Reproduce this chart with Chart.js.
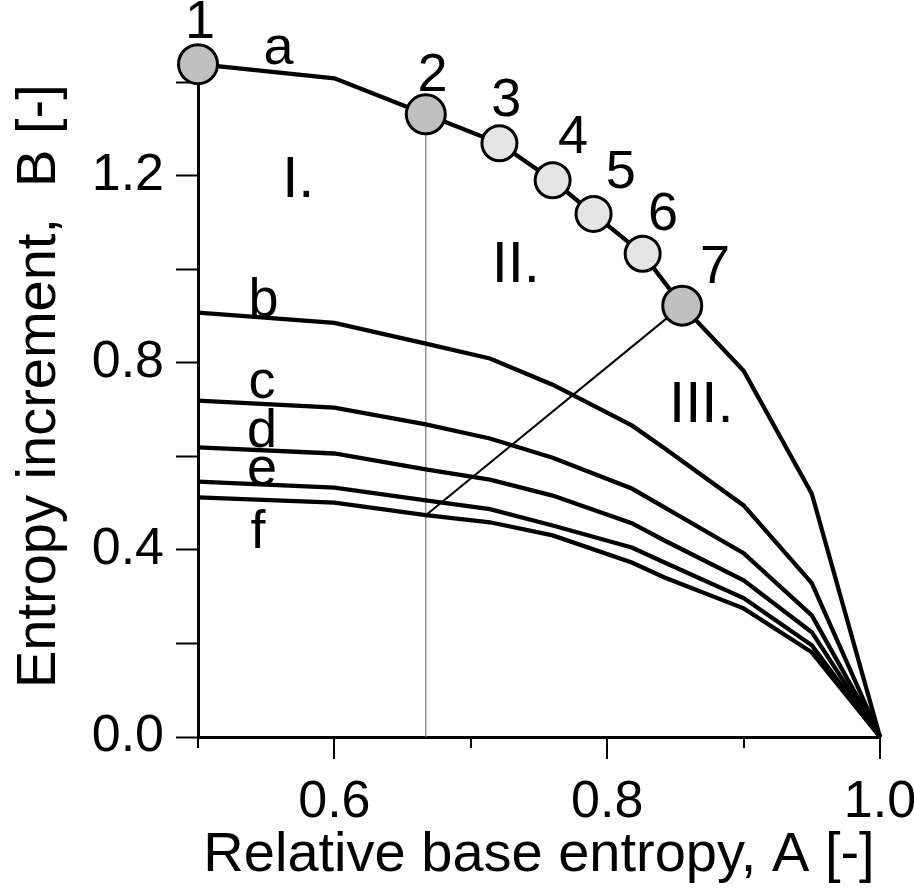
<!DOCTYPE html>
<html>
<head>
<meta charset="utf-8">
<script src="https://cdn.jsdelivr.net/npm/chart.js@4.4.1/dist/chart.umd.min.js"></script>
<style>
  html, body { margin: 0; padding: 0; background: #fff; }
  #wrap { width: 914px; height: 891px; }
</style>
</head>
<body>
<div id="wrap"><canvas id="chart"></canvas></div>
<script>
// curve a (upper boundary, points 1..7 sit on it)
const aX = [0.5, 0.6, 0.667, 0.721, 0.76, 0.79, 0.826, 0.855, 0.9, 0.95, 1.0];
const aY = [1.438, 1.408, 1.331, 1.269, 1.190, 1.118, 1.033, 0.922, 0.783, 0.52, 0];

// curves b..f share the same A values
const lowX = [0.5, 0.6, 0.667, 0.714, 0.76, 0.818, 0.842, 0.9, 0.95, 1.0];
const bY = [0.907, 0.885, 0.841, 0.809, 0.753, 0.666, 0.617, 0.495, 0.329, 0];
const cY = [0.719, 0.704, 0.668, 0.638, 0.597, 0.531, 0.491, 0.393, 0.26, 0];
const dY = [0.619, 0.606, 0.572, 0.55, 0.516, 0.457, 0.42, 0.335, 0.224, 0];
const eY = [0.546, 0.533, 0.506, 0.487, 0.452, 0.405, 0.373, 0.297, 0.196, 0];
const fY = [0.512, 0.501, 0.474, 0.459, 0.431, 0.373, 0.341, 0.275, 0.181, 0];

// numbered points 1..7 on curve a
const ptX = [0.5, 0.667, 0.721, 0.76, 0.79, 0.826, 0.855];
const ptY = [1.438, 1.331, 1.269, 1.190, 1.118, 1.033, 0.922];
const ptName = ['1', '2', '3', '4', '5', '6', '7'];

// helper lines: vertical at point 2, diagonal from point 7 to curve f
const vertX = [0.667, 0.667];
const vertY = [1.331, 0];
const diagX = [0.855, 0.667];
const diagY = [0.922, 0.474];

// ticks
const xTicks = [0.5, 0.6, 0.7, 0.8, 0.9, 1.0];
const xLabels = ['0.6', '0.8', '1.0'];
const yTicks = [0, 0.2, 0.4, 0.6, 0.8, 1.0, 1.2, 1.4];
const yLabels = ['0.0', '0.4', '0.8', '1.2'];
const yTitle = 'Entropy increment,  B [-]';
const yTitleAt = 0.75;   // B value the rotated title is centred on

// text labels in the plot [text, A, B]
const notes = [
  ['1', 0.5015, 1.525], ['a', 0.559, 1.47], ['2', 0.672, 1.412], ['3', 0.726, 1.359],
  ['4', 0.775, 1.28], ['5', 0.81, 1.205], ['6', 0.841, 1.116], ['7', 0.879, 1.003],
  ['b', 0.548, 0.932], ['c', 0.547, 0.757], ['d', 0.547, 0.651], ['e', 0.547, 0.57], ['f', 0.544, 0.435]
];
const zones = [['I.', 0.5735, 1.188], ['II.', 0.733, 1.007], ['III.', 0.869, 0.708]];

const FONT = '"Liberation Sans", Arial, sans-serif';

function pts(xs, ys)
{
    return xs.map((x, i) => ({ x: x, y: ys[i] }));
}

function curve(xs, ys)
{
    return {
        data: pts(xs, ys), showLine: true, borderColor: '#000', borderWidth: 4.3,
        pointRadius: 0, clip: false, order: 1, tension: 0
    };
}

function big(n)
{
    return n == '1' || n == '2' || n == '7';
}

const drawPlugin = {
    id: 'extras',
    // x ticks: long at labelled values, short in between; plus y title
    afterDraw(chart) {
        const ctx = chart.ctx, xs = chart.scales.x, ys = chart.scales.y;
        const y0 = chart.chartArea.bottom;
        ctx.save();
        ctx.strokeStyle = '#000';
        ctx.lineWidth = 2;
        xTicks.forEach(v => {
            const px = Math.round(xs.getPixelForValue(v));
            const major = xLabels.includes(v.toFixed(1));
            ctx.beginPath();
            ctx.moveTo(px, y0);
            ctx.lineTo(px, y0 + (major ? 22 : 11));
            ctx.stroke();
        });
        ctx.translate(40, ys.getPixelForValue(yTitleAt));
        ctx.rotate(-Math.PI / 2);
        ctx.fillStyle = '#000';
        ctx.font = '56px ' + FONT;
        ctx.textAlign = 'center';
        ctx.textBaseline = 'middle';
        ctx.fillText(yTitle, 0, 0);
        ctx.restore();
    },
    afterDatasetsDraw(chart) {
        const ctx = chart.ctx, xs = chart.scales.x, ys = chart.scales.y;
        ctx.save();
        ctx.fillStyle = '#000';
        ctx.textAlign = 'center';
        ctx.textBaseline = 'middle';
        ctx.font = '54px ' + FONT;
        notes.forEach(n => {
            ctx.fillText(n[0], xs.getPixelForValue(n[1]), ys.getPixelForValue(n[2]));
        });
        ctx.font = '58px ' + FONT;
        zones.forEach(n => {
            ctx.fillText(n[0], xs.getPixelForValue(n[1]), ys.getPixelForValue(n[2]));
        });
        ctx.restore();
    }
};

const config = {
    type: 'scatter',
    data: {
        datasets: [
            {
                data: pts(ptX, ptY), showLine: false, clip: false, order: 0,
                pointRadius: ptName.map(n => big(n) ? 19.5 : 17.5),
                pointBackgroundColor: ptName.map(n => big(n) ? '#c0c0c0' : '#e4e4e4'),
                pointBorderColor: '#000', pointBorderWidth: 3
            },
            curve(aX, aY),
            curve(lowX, bY),
            curve(lowX, cY),
            curve(lowX, dY),
            curve(lowX, eY),
            curve(lowX, fY),
            { data: pts(vertX, vertY), showLine: true, borderColor: '#777', borderWidth: 1.2, pointRadius: 0, order: 2 },
            { data: pts(diagX, diagY), showLine: true, borderColor: '#000', borderWidth: 2, pointRadius: 0, order: 2 }
        ]
    },
    options: {
        responsive: true,
        maintainAspectRatio: false,
        animation: false,
        events: [],
        layout: { padding: { left: 0, top: 82, right: 34, bottom: 0 } },
        plugins: { legend: { display: false }, tooltip: { enabled: false } },
        scales: {
            x: {
                type: 'linear', min: 0.5, max: 1.0,
                afterFit: s => { s.height = 154; s.paddingLeft = 0; s.paddingRight = 0; },
                afterBuildTicks: s => { s.ticks = xTicks.map(v => ({ value: v })); },
                ticks: {
                    color: '#000', padding: 34, maxRotation: 0, autoSkip: false,
                    font: { family: FONT, size: 52 },
                    callback: v => xLabels.includes(v.toFixed(1)) ? v.toFixed(1) : ''
                },
                grid: { display: true, drawOnChartArea: false, drawTicks: false },
                border: { display: true, color: '#000', width: 3 },
                title: {
                    display: true, text: 'Relative base entropy, A [-]', color: '#000',
                    font: { family: FONT, size: 56 }, padding: { top: 0, bottom: 2 }
                }
            },
            y: {
                type: 'linear', min: 0, max: 1.4,
                afterFit: s => { s.width = 198; s.paddingTop = 0; s.paddingBottom = 0; },
                afterBuildTicks: s => { s.ticks = yTicks.map(v => ({ value: v })); },
                ticks: {
                    color: '#000', padding: 12, autoSkip: false,
                    font: { family: FONT, size: 52 },
                    callback: v => yLabels.includes(v.toFixed(1)) ? v.toFixed(1) : ''
                },
                grid: { display: true, drawOnChartArea: false, drawTicks: true, tickLength: 22, tickColor: '#000', tickWidth: 2 },
                border: { display: true, color: '#000', width: 3 }
            }
        }
    },
    plugins: [drawPlugin]
};

new Chart(document.getElementById('chart'), config);
</script>
</body>
</html>
